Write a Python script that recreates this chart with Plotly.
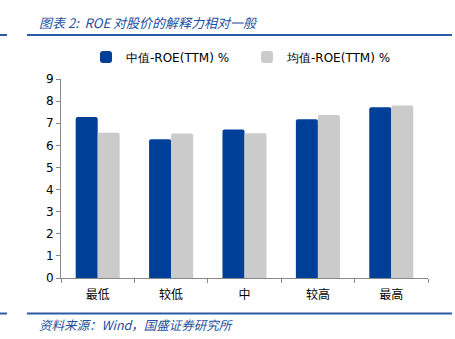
import plotly.graph_objects as go

categories = ["最低", "较低", "中", "较高", "最高"]
median_roe = [7.28, 6.28, 6.72, 7.18, 7.72]
mean_roe = [6.57, 6.54, 6.55, 7.37, 7.80]
y_ticks = list(range(0, 10))

W, H = 455, 339
L, R, T, B = 61, 27, 79, 61
PW, PH = W - L - R, H - T - B

def px_x(x):
    return (x - L) / PW

def px_y(y):
    return (H - B - y) / PH

BLUE = "#003F98"
GRAY = "#CBCBCB"
TEXT_BLUE = "#1F4FA0"

fig = go.Figure()
fig.add_bar(x=categories, y=median_roe, name="中值-ROE(TTM) %", marker_color=BLUE,
            marker_line_width=0, legend="legend")
fig.add_bar(x=categories, y=mean_roe, name="均值-ROE(TTM) %", marker_color=GRAY,
            marker_line_width=0, legend="legend2")

legend_common = dict(orientation="h", xanchor="left", y=px_y(57), yanchor="middle",
                     font=dict(size=12), bgcolor="rgba(0,0,0,0)", itemwidth=30)

fig.update_layout(
    width=W, height=H,
    margin=dict(l=L, r=R, t=T, b=B),
    paper_bgcolor="white", plot_bgcolor="white",
    barmode="group", bargap=0.4, bargroupgap=0, barcornerradius=2,
    font=dict(family="DejaVu Sans, Verdana, sans-serif", size=12, color="#000000"),
    legend=dict(x=px_x(86), **legend_common),
    legend2=dict(x=px_x(247), **legend_common),
    showlegend=True,
)

fig.update_yaxes(range=[0, 9], tickvals=y_ticks, showgrid=False, zeroline=False,
                 showline=True, linecolor="#888888", linewidth=1,
                 ticks="outside", ticklen=4, tickcolor="#888888",
                 tickfont=dict(size=12))
fig.update_xaxes(showgrid=False, showline=True, linecolor="#888888", linewidth=1,
                 ticks="outside", ticklen=4, tickcolor="#888888", tickson="boundaries",
                 ticklabelstandoff=6,
                 tickfont=dict(family="Noto Sans CJK SC", size=12), range=[-0.5, 4.5])

# Header title and rules
fig.add_annotation(text="<i>图表 2:  ROE 对股价的解释力相对一般</i>", xref="paper", yref="paper",
                   x=px_x(37), y=px_y(23), xanchor="left", yanchor="middle", showarrow=False,
                   font=dict(family="Noto Sans CJK SC", size=13, color=TEXT_BLUE))
fig.add_annotation(text="<i>资料来源：Wind，国盛证券研究所</i>", xref="paper", yref="paper",
                   x=px_x(37), y=px_y(324), xanchor="left", yanchor="middle", showarrow=False,
                   font=dict(family="Noto Sans CJK SC", size=12.5, color=TEXT_BLUE))

for y in (35, 313.5):
    fig.add_shape(type="line", xref="paper", yref="paper",
                  x0=px_x(27), x1=px_x(452), y0=px_y(y), y1=px_y(y),
                  line=dict(color="#2A5AA8", width=2))
    fig.add_shape(type="line", xref="paper", yref="paper",
                  x0=px_x(0), x1=px_x(7), y0=px_y(y), y1=px_y(y),
                  line=dict(color="#2A5AA8", width=2))

fig.write_html("out.html")
